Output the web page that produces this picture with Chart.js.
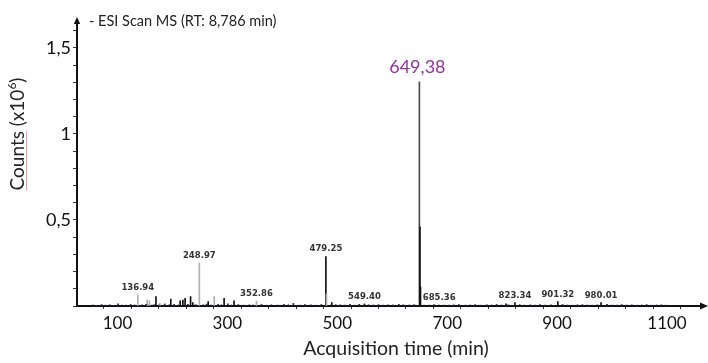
<!DOCTYPE html>
<html><head><meta charset="utf-8">
<script src="https://cdn.jsdelivr.net/npm/chart.js@4.4.1/dist/chart.umd.min.js"></script>
<style>html,body{margin:0;padding:0;background:#fff;}#wrap{width:708px;height:363px;position:relative;}</style>
</head><body><div id="wrap"><canvas id="c" width="708" height="363"></canvas></div>
<script>
// ---------- data ----------
const titleText = '- ESI Scan MS (RT: 8,786 min)';
const xAxisTitle = 'Acquisition time (min)';
const yAxisTitleMain = 'Counts (x10';
const yAxisTitleSup = '6';
const xTickLabels = [100, 300, 500, 700, 900, 1100];
const yTickLabels = [0.5, 1, 1.5];

// base peak
const basePeakX = 649.38;
const basePeakY = 1.303;
const basePeakLabel = '649,38';

// dark peaks (x, counts x10^6)
const darkPeakX = [650.4, 651.4, 479.25, 170, 197, 214, 219, 223, 233, 237, 265, 294, 312, 490, 549.40, 685.36, 807, 823.34, 901.32, 980.01];
const darkPeakY = [0.46, 0.11, 0.288, 0.055, 0.04, 0.03, 0.035, 0.045, 0.055, 0.02, 0.025, 0.045, 0.03, 0.02, 0.012, 0.006, 0.012, 0.02, 0.025, 0.02];

// light grey peaks
const greyPeakX = [136.94, 154, 158, 177, 248.97, 276, 352.86, 480.3];
const greyPeakY = [0.065, 0.035, 0.03, 0.015, 0.25, 0.055, 0.028, 0.07];

// labelled peaks (small annotations)
const labelledPeaks = ['136.94', '248.97', '352.86', '479.25', '549.40', '685.36', '823.34', '901.32', '980.01'];

// baseline noise
const noiseX = [55, 62, 71, 78, 86, 93, 101, 108, 116, 124, 131, 145, 152, 163, 167, 175, 186, 194, 203, 211, 228, 242, 256, 262, 270, 283, 289, 301, 307, 320, 331, 340, 347, 362, 371, 380, 392, 403, 411, 420, 432, 441, 452, 460, 471, 488, 497, 505, 514, 523, 531, 540, 557, 566, 575, 583, 592, 601, 612, 620, 631, 640, 658, 667, 676, 694, 703, 712, 721, 733, 742, 751, 760, 772, 781, 790, 799, 811, 832, 840, 851, 860, 869, 878, 889, 910, 919, 928, 937, 946, 955, 964, 973, 991, 1000, 1009, 1018, 1027, 1036, 1045, 1054, 1063, 1072, 1081, 1090, 1097];
const noiseY = [0.006, 0.004, 0.008, 0.005, 0.007, 0.004, 0.012, 0.006, 0.005, 0.009, 0.006, 0.007, 0.01, 0.005, 0.008, 0.006, 0.012, 0.007, 0.009, 0.006, 0.01, 0.008, 0.007, 0.011, 0.006, 0.009, 0.007, 0.012, 0.006, 0.008, 0.005, 0.007, 0.006, 0.009, 0.005, 0.007, 0.006, 0.01, 0.007, 0.015, 0.006, 0.008, 0.007, 0.005, 0.009, 0.006, 0.008, 0.007, 0.006, 0.009, 0.005, 0.01, 0.007, 0.006, 0.008, 0.005, 0.007, 0.006, 0.009, 0.007, 0.006, 0.008, 0.006, 0.005, 0.008, 0.006, 0.005, 0.007, 0.009, 0.005, 0.006, 0.008, 0.005, 0.007, 0.006, 0.009, 0.006, 0.007, 0.008, 0.006, 0.007, 0.005, 0.008, 0.006, 0.007, 0.009, 0.006, 0.005, 0.007, 0.008, 0.006, 0.005, 0.007, 0.009, 0.006, 0.005, 0.008, 0.006, 0.007, 0.005, 0.006, 0.008, 0.005, 0.006, 0.007, 0.005];

// ---------- chart ----------
const toXY = (xs, ys) => xs.map((x, i) => ({x: x, y: ys[i]}));
const allX = [basePeakX].concat(darkPeakX, greyPeakX);
const allY = [basePeakY].concat(darkPeakY, greyPeakY);

const decorations = {
  id: 'decorations',
  afterDraw(chart) {
    const ctx = chart.ctx;
    const xs = chart.scales.x, ys = chart.scales.y;
    const ca = chart.chartArea;
    ctx.save();
    // arrows
    ctx.fillStyle = '#111';
    ctx.beginPath();
    ctx.moveTo(ca.left, ca.top - 5);
    ctx.lineTo(ca.left - 3.2, ca.top + 2);
    ctx.lineTo(ca.left + 3.2, ca.top + 2);
    ctx.closePath(); ctx.fill();
    ctx.beginPath();
    ctx.moveTo(ca.right + 5, ca.bottom);
    ctx.lineTo(ca.right - 3, ca.bottom - 3.5);
    ctx.lineTo(ca.right - 3, ca.bottom + 3.5);
    ctx.closePath(); ctx.fill();

    // title
    ctx.fillStyle = '#222';
    ctx.font = '14.5px Lato';
    ctx.textAlign = 'left';
    ctx.textBaseline = 'middle';
    ctx.fillText(titleText, ca.left + 12, 21);

    // x axis title
    ctx.font = '19.5px Lato';
    ctx.textAlign = 'center';
    ctx.textBaseline = 'alphabetic';
    ctx.fillText(xAxisTitle, 396, 355);

    // y axis title (rotated)
    ctx.save();
    ctx.translate(17, 134);
    ctx.rotate(-Math.PI / 2);
    const fMain = '19px Lato', fSup = '12px Lato';
    ctx.font = fMain;
    const wMain = ctx.measureText(yAxisTitleMain).width;
    const wClose = ctx.measureText(')').width;
    const wCounts = ctx.measureText('Counts').width;
    ctx.font = fSup;
    const wSup = ctx.measureText(yAxisTitleSup).width;
    const total = wMain + wSup + wClose;
    const sx = -total / 2;
    ctx.textAlign = 'left';
    ctx.textBaseline = 'alphabetic';
    ctx.font = fMain;
    ctx.fillText(yAxisTitleMain, sx, 6.5);
    ctx.font = fSup;
    ctx.fillText(yAxisTitleSup, sx + wMain, -1.5);
    ctx.font = fMain;
    ctx.fillText(')', sx + wMain + wSup, 6.5);
    ctx.strokeStyle = 'rgba(235,120,120,0.75)';
    ctx.lineWidth = 1;
    ctx.beginPath();
    ctx.moveTo(sx, 9.5); ctx.lineTo(sx + wCounts, 9.5);
    ctx.stroke();
    ctx.restore();

    // small peak labels
    ctx.font = 'bold 8.5px "DejaVu Sans"';
    ctx.fillStyle = '#333';
    ctx.textAlign = 'center';
    ctx.textBaseline = 'bottom';
    labelledPeaks.forEach(lbl => {
      const v = parseFloat(lbl);
      const idx = allX.findIndex(x => Math.abs(x - v) < 0.001);
      const h = idx >= 0 ? allY[idx] : 0;
      const px = xs.getPixelForValue(v);
      const top = ys.getPixelForValue(h);
      ctx.fillText(lbl, px, Math.min(top - 3, ca.bottom - 4));
    });

    // base peak label
    ctx.font = '18px Lato';
    ctx.fillStyle = '#93339f';
    ctx.textBaseline = 'alphabetic';
    ctx.fillText(basePeakLabel, xs.getPixelForValue(basePeakX) - 2, ys.getPixelForValue(basePeakY) - 8.5);
    ctx.restore();
  }
};

const tickFont = {family: 'Lato', size: 17};

new Chart(document.getElementById('c'), {
  type: 'bar',
  data: {
    datasets: [
      {data: toXY(noiseX, noiseY), backgroundColor: '#1d2444', barThickness: 1, grouped: false},
      {data: toXY(greyPeakX, greyPeakY), backgroundColor: '#aeaeae', barThickness: 1, grouped: false},
      {data: toXY(darkPeakX, darkPeakY), backgroundColor: '#111111', barThickness: 1, grouped: false},
      {data: toXY([basePeakX], [basePeakY]), backgroundColor: '#4a4a4a', barThickness: 1, grouped: false}
    ]
  },
  options: {
    responsive: false,
    animation: false,
    events: [],
    layout: {padding: {left: 0, top: 22, right: 5, bottom: 0}},
    plugins: {legend: {display: false}, tooltip: {enabled: false}},
    scales: {
      x: {
        type: 'linear',
        min: 26.3,
        max: 1165.5,
        offset: false,
        afterFit(s) { s.height = 57; },
        grid: {drawOnChartArea: false, drawTicks: true, tickLength: 3, color: '#333', tickWidth: 1},
        border: {display: true, color: '#111', width: 2},
        ticks: {
          stepSize: 50,
          autoSkip: false,
          includeBounds: false,
          maxRotation: 0,
          padding: 4,
          color: '#111',
          font: tickFont,
          callback: v => xTickLabels.includes(Math.round(v)) && Math.abs(v - Math.round(v)) < 1e-6 ? String(Math.round(v)) : ''
        }
      },
      y: {
        min: 0,
        max: 1.651,
        afterFit(s) { s.width = 77; },
        grid: {drawOnChartArea: false, drawTicks: true, tickLength: 4, color: '#333', tickWidth: 1},
        border: {display: true, color: '#111', width: 2},
        ticks: {
          stepSize: 0.1,
          autoSkip: false,
          includeBounds: false,
          padding: 2,
          color: '#111',
          font: {family: 'Lato', size: 18},
          callback: v => {
            const m = yTickLabels.find(t => Math.abs(t - v) < 1e-6);
            return m !== undefined ? String(m).replace('.', ',') : '';
          }
        }
      }
    }
  },
  plugins: [decorations]
});
</script>
</body></html>
